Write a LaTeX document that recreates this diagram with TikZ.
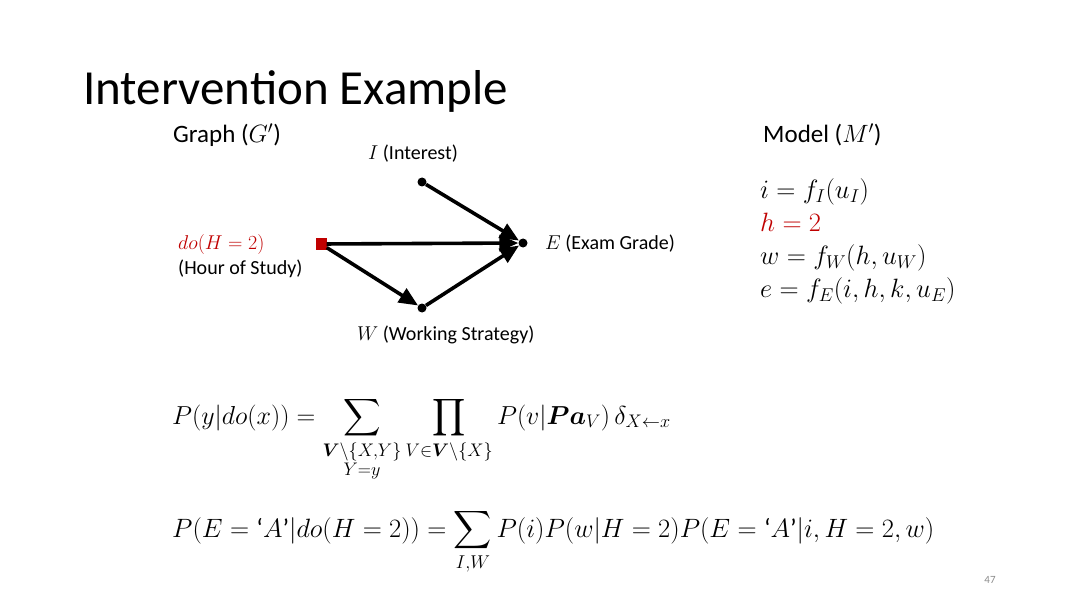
\RequirePackage{fix-cm}
\documentclass[tikz,border=0pt]{standalone}
\usepackage{fontspec}
\usepackage{amsmath, amssymb}
\setmainfont{Carlito}
\usetikzlibrary{arrows.meta, positioning}
\definecolor{DoRed}{RGB}{192, 0, 0}

\begin{document}
\begin{tikzpicture}[x=1pt, y=-1pt, >={Triangle[length=19pt, width=16pt]},
    txt/.style={font=\fontsize{20}{24}\selectfont, inner sep=0pt, anchor=base west},
    head/.style={font=\fontsize{25}{29}\selectfont, inner sep=0pt, anchor=base west},
    eqn/.style={font=\fontsize{26.5}{31}\selectfont, inner sep=0pt, anchor=base west},
    formula/.style={inner sep=0pt, anchor=base west},
    vtx/.style={circle, fill=black, inner sep=0pt, minimum size=9pt},
    edge/.style={->, line width=3.6pt}]
    \useasboundingbox[fill=white] (0,0) rectangle (1080,607);

    % title and headings
    \node[font=\fontsize{49}{57}\selectfont, inner sep=0pt, anchor=base west] (title) at (83,105) {Intervention Example};
    \node[head] (graphhead) at (173,143) {Graph ($G'$)};
    \node[head] (modelhead) at (763,143) {Model ($M'$)};

    % graph G'
    \node[vtx] (I) at (422,182) {};
    \node[vtx] (E) at (523,243) {};
    \node[vtx] (W) at (422,308) {};
    \node[rectangle, fill=DoRed, inner sep=0pt, minimum size=11pt] (H) at (321,244) {};

    \draw[edge] (I) -- (E);
    \draw[edge] (H) -- (E);
    \draw[edge] (H) -- (W);
    \draw[edge] (W) -- (E);

    \node[txt] (Ilab) at (368,160) {$I$ (Interest)};
    \node[txt] (Elab) at (545,250) {$E$ (Exam Grade)};
    \node[txt] (Wlab) at (357,340) {$W$ (Working Strategy)};
    \node[txt, text=DoRed] (Hdo) at (178,249) {$do(H=2)$};
    \node[txt] (Hlab) at (178,274) {(Hour of Study)};

    % model M'
    \node[eqn] (mi) at (760,199) {$i = f_I(u_I)$};
    \node[eqn, text=DoRed] (mh) at (760,232) {$h = 2$};
    \node[eqn] (mw) at (760,265) {$w = f_W(h,u_W)$};
    \node[eqn] (me) at (760,298) {$e = f_E(i,h,k,u_E)$};

    % adjustment formulas
    \node[formula, font=\fontsize{26}{31}\selectfont] (adj) at (172,424) {$\displaystyle P(y|do(x)) = \sum_{\substack{\boldsymbol{V}\setminus\{X,Y\}\\ Y=y}} \prod_{V\in\boldsymbol{V}\setminus\{X\}} P(v|\boldsymbol{Pa}_V)\,\delta_{X\leftarrow x}$};
    \node[formula, font=\fontsize{26.5}{31}\selectfont] (grade) at (172,537) {$\displaystyle P(E=\text{‘}A\text{’}|do(H=2)) = \sum_{I,W} P(i)P(w|H=2)P(E=\text{‘}A\text{’}|i,H=2,w)$};

    \node[font=\fontsize{11}{13}\selectfont, text=black!45, inner sep=0pt] (page) at (990,580) {47};
\end{tikzpicture}
\end{document}
